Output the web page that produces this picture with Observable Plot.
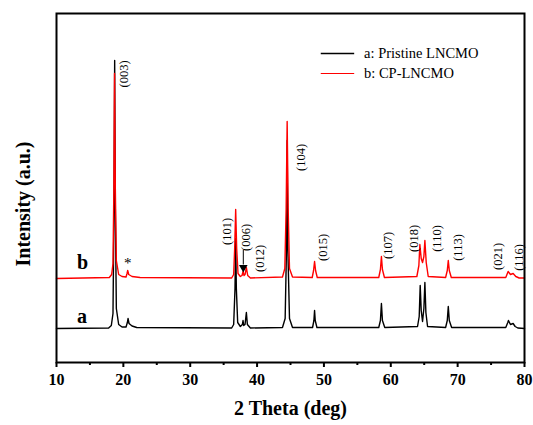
<!DOCTYPE html>
<html>
<head>
<meta charset="utf-8">
<script src="https://cdn.jsdelivr.net/npm/d3@7"></script>
<script src="https://cdn.jsdelivr.net/npm/@observablehq/plot@0.6"></script>
<style>
  html, body { margin: 0; padding: 0; background: #fff; }
</style>
</head>
<body>
<div id="chart"></div>
<script>
// Pattern a: Pristine LNCMO (2θ in degrees, intensity in a.u.)
const twoTheta_a = [10, 17.8, 18.2, 18.45, 18.6, 18.7, 18.8, 18.95, 19.3, 19.8, 20.4, 20.6, 20.7, 20.85, 21.3, 22,
  36.2, 36.5, 36.7, 36.8, 36.9, 37.1, 37.5, 37.8, 37.9, 38.0, 38.2, 38.4, 38.55, 39,
  43.8, 44.2, 44.4, 44.5, 44.6, 44.85, 45.3, 48.3, 48.5, 48.6, 48.7, 48.95,
  58.2, 58.45, 58.6, 58.75, 59.1, 64.0, 64.25, 64.4, 64.55, 64.75, 64.95, 65.1, 65.25, 65.5,
  68.2, 68.45, 68.6, 68.75, 69.1, 77.2, 77.5, 77.6, 77.9, 78.3, 78.6, 79, 80];
const intensity_a = [0, 5, 30, 150, 1200, 2680, 1200, 200, 40, 15, 15, 60, 100, 50, 25, 10,
  5, 40, 400, 900, 400, 60, 20, 40, 80, 30, 40, 160, 40, 5,
  10, 100, 800, 1880, 800, 100, 10, 10, 80, 180, 80, 10,
  10, 80, 250, 80, 10, 20, 120, 430, 180, 70, 200, 460, 160, 20,
  10, 80, 220, 80, 10, 10, 60, 80, 40, 50, 20, 5, 0];

// Pattern b: CP-LNCMO
const twoTheta_b = [10, 17.9, 18.25, 18.45, 18.58, 18.68, 18.8, 18.95, 19.3, 19.8, 20.4, 20.55, 20.65, 20.8, 21.3, 22.5,
  36.2, 36.5, 36.65, 36.8, 36.95, 37.15, 37.5, 37.75, 37.9, 38.05, 38.2, 38.4, 38.6, 39,
  43.8, 44.15, 44.35, 44.5, 44.65, 44.85, 45.3, 48.25, 48.45, 48.6, 48.75, 49.0,
  58.2, 58.45, 58.6, 58.75, 59.05, 63.9, 64.2, 64.35, 64.55, 64.75, 64.95, 65.1, 65.3, 65.6,
  68.2, 68.45, 68.6, 68.75, 69.05, 77.2, 77.55, 77.9, 78.3, 78.7, 79.2, 80];
const intensity_b = [0, 10, 40, 150, 900, 2050, 900, 180, 40, 20, 15, 50, 80, 40, 20, 10,
  5, 40, 300, 690, 300, 50, 20, 30, 70, 30, 40, 110, 30, 5,
  15, 100, 700, 1570, 700, 100, 15, 10, 80, 170, 80, 10,
  10, 90, 220, 90, 10, 20, 130, 340, 200, 160, 220, 380, 160, 20,
  10, 80, 180, 80, 10, 10, 70, 40, 50, 20, 5, 5];

// vertical stacking offsets (a.u.)
const offset_a = 340;
const offset_b = 840;

// Peak (hkl) annotations: label, 2θ, level (a.u., plot scale)
const peakLabels = ["(003)", "(101)", "(006)", "(012)", "(104)", "(015)", "(107)", "(018)", "(110)", "(113)", "(021)", "(116)"];
const peakLabelTheta = [20.06, 35.54, 38.39, 40.49, 46.5, 49.81, 59.57, 63.48, 66.93, 70.09, 76.1, 79.25];
const peakLabelLevel = [2885, 1310, 1250, 1040, 2050, 1150, 1170, 1240, 1240, 1150, 1060, 1050];

const seriesNames = ["a: Pristine LNCMO", "b: CP-LNCMO"];
const seriesColors = ["#000000", "#ff0000"];
const xTicks = [10, 20, 30, 40, 50, 60, 70, 80];
const xMinorTicks = [15, 25, 35, 45, 55, 65, 75];

const rowsA = twoTheta_a.map((t, i) => ({t, v: intensity_a[i] + offset_a}));
const rowsB = twoTheta_b.map((t, i) => ({t, v: intensity_b[i] + offset_b}));
const labels = peakLabels.map((s, i) => ({s, t: peakLabelTheta[i], v: peakLabelLevel[i]}));

const serif = "'Liberation Serif', 'Times New Roman', serif";

const chart = Plot.plot({
  width: 533,
  height: 425,
  marginLeft: 56,
  marginRight: 9,
  marginTop: 13,
  marginBottom: 63,
  style: {fontFamily: serif, fontSize: "14px", fontWeight: "bold", color: "#000", background: "#fff"},
  x: {domain: [10, 80], axis: null},
  y: {domain: [0, 3490], axis: null},
  marks: [
    Plot.line(rowsA, {x: "t", y: "v", stroke: seriesColors[0], strokeWidth: 1.4}),
    Plot.line(rowsB, {x: "t", y: "v", stroke: seriesColors[1], strokeWidth: 1.4}),
    // peak labels
    Plot.text(labels, {x: "t", y: "v", text: "s", rotate: -90, fontSize: 12.5, fontWeight: "normal"}),
    // arrow to (006)
    Plot.ruleX([37.94], {y1: 1120, y2: 975, stroke: "#000", strokeWidth: 1}),
    Plot.dot([37.94], {x: d => d, y: 950, symbol: "triangle", rotate: 180, r: 3.2, fill: "#000", stroke: "none"}),
    // impurity star
    Plot.text(["*"], {x: 20.67, y: 990, text: d => d, fontSize: 15, fontWeight: "normal"}),
    // series letters
    Plot.text(["a", "b"], {x: [13.8, 13.9], y: [460, 1000], text: d => d, fontSize: 20, fontWeight: "bold"}),
    // legend
    Plot.ruleY([3090], {x1: 49.6, x2: 54.6, stroke: seriesColors[0], strokeWidth: 1.5}),
    Plot.ruleY([2890], {x1: 49.6, x2: 54.6, stroke: seriesColors[1], strokeWidth: 1.2}),
    Plot.text(seriesNames, {x: 56.0, y: [3090, 2890], text: d => d, textAnchor: "start", fontSize: 14.5, fontWeight: "normal"}),
    // axes
    Plot.axisX({ticks: xTicks, tickSize: 5, tickPadding: 6, tickFormat: d => d, fontSize: 16, fontWeight: "bold", strokeWidth: 2, label: null}),
    Plot.axisX({ticks: xMinorTicks, tickSize: 3, tickFormat: () => "", strokeWidth: 2, label: null}),
    Plot.text(["2 Theta (deg)"], {frameAnchor: "bottom", dy: 52, text: d => d, fontSize: 20, fontWeight: "bold"}),
    Plot.text(["Intensity (a.u.)"], {frameAnchor: "left", textAnchor: "middle", dx: -33, dy: 16, rotate: -90, text: d => d, fontSize: 20, fontWeight: "bold"}),
    Plot.frame({stroke: "#000", strokeWidth: 2})
  ]
});
document.getElementById("chart").appendChild(chart);
</script>
</body>
</html>
